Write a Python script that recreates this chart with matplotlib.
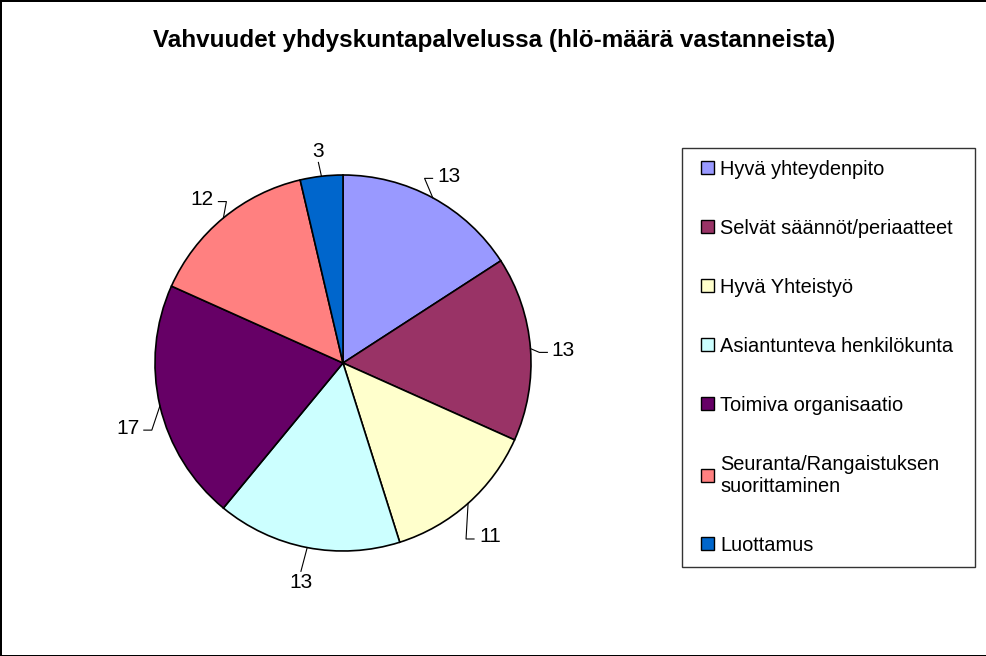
import matplotlib.pyplot as plt
import numpy as np
from matplotlib.legend_handler import HandlerPatch
from matplotlib.patches import Rectangle

plt.rcParams['font.family'] = ['Liberation Sans', 'DejaVu Sans']

categories = [
    "Hyvä yhteydenpito",
    "Selvät säännöt/periaatteet",
    "Hyvä Yhteistyö",
    "Asiantunteva henkilökunta",
    "Toimiva organisaatio",
    "Seuranta/Rangaistuksen\nsuorittaminen",
    "Luottamus",
]
values = [13, 13, 11, 13, 17, 12, 3]
colors = ["#9999FF", "#993366", "#FFFFCC", "#CCFFFF", "#660066", "#FF8080", "#0066CC"]
title = "Vahvuudet yhdyskuntapalvelussa (hlö-määrä vastanneista)"


def square(legend, orig_handle, xdescent, ydescent, width, height, fontsize):
    # small square at the right end of the handle box
    side = 9.5
    return Rectangle((width - side - xdescent, height / 2 - side / 2 - ydescent), side, side)


def main():
    W, H = 987, 656
    fig = plt.figure(figsize=(W / 100, H / 100), dpi=100)
    fig.patch.set_edgecolor("black")
    fig.patch.set_linewidth(2)

    # pie area (pixel box of the circle), radius 188 px
    R = 188.0
    ax = fig.add_axes([155 / W, 105 / H, 376 / W, 376 / H])
    wedges, _ = ax.pie(
        values,
        colors=colors,
        startangle=90,
        counterclock=False,
        radius=1.0,
        wedgeprops=dict(edgecolor="black", linewidth=1.2),
    )
    ax.set_xlim(-1, 1)
    ax.set_ylim(-1, 1)
    ax.set_aspect("equal")
    ax.axis("off")

    # data labels outside the pie with leader lines
    gap, hh = 20 / R, 9 / R
    for w, v in zip(wedges, values):
        th = np.deg2rad((w.theta1 + w.theta2) / 2)
        c, s = np.cos(th), np.sin(th)
        hw = (6.5 * len(str(v))) / R
        tx = c * (1 + gap) + hw * c
        ty = s * (1 + gap) + hh * s - 4 / R
        if s < 0:
            ty -= 12 / R * abs(c)
        if abs(c) > 0.3:
            sg = np.sign(c)
            px, py = tx - sg * (hw + 3 / R), ty - 2 / R
            xs = [c, px - sg * 8 / R, px]
            ys = [s, py, py]
        else:
            sg = np.sign(s)
            xs = [c, tx]
            ys = [s, ty - sg * (hh + 2 / R)]
        ax.plot(xs, ys, color="black", lw=0.8, clip_on=False)
        ax.text(tx, ty, str(v), ha="center", va="center", fontsize=15)

    fig.text(494 / W, 1 - 40 / H, title, ha="center", va="center", fontsize=17.5, fontweight="bold")

    leg = fig.legend(
        wedges,
        categories,
        loc="upper left",
        bbox_to_anchor=(682 / W, 1 - 576 / H, 293 / W, 428 / H),
        mode="expand",
        fontsize=14.4,
        frameon=True,
        fancybox=False,
        edgecolor="black",
        handlelength=1.0,
        handleheight=0.5,
        handletextpad=0.3,
        labelspacing=2.0,
        borderpad=0.6,
        borderaxespad=0,
        handler_map={w: HandlerPatch(patch_func=square) for w in wedges},
    )
    leg.get_frame().set_linewidth(1)
    for h in leg.legend_handles:
        h.set_edgecolor("black")
        h.set_linewidth(1)

    fig.savefig("out.png", dpi=100)


if __name__ == "__main__":
    main()
